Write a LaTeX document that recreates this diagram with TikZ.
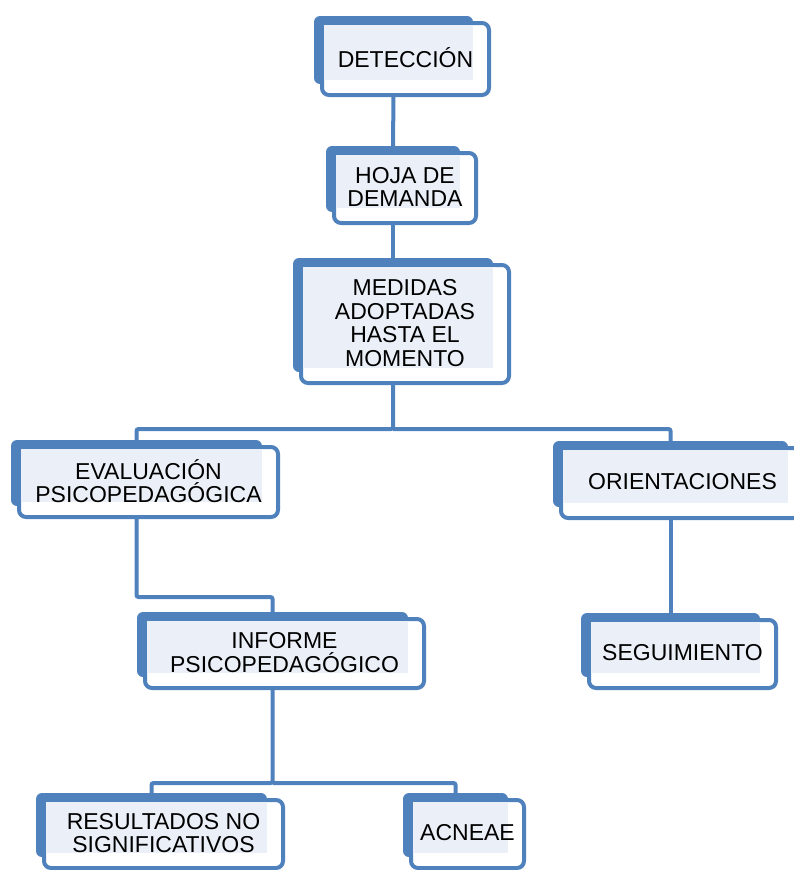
\documentclass[tikz,border=0pt]{standalone}
\usepackage{fontspec}
\setmainfont{Liberation Sans}
\definecolor{bl}{HTML}{4F81BD}
\definecolor{lf}{HTML}{EBF0F8}
\tikzset{
  backbox/.style={fill=bl, rounded corners=6pt, inner sep=0pt, outer sep=0pt},
  frontbox/.style={fill=white, draw=bl, line width=4pt, rounded corners=7pt, inner sep=0pt, outer sep=0pt},
  boxtext/.style={align=center, inner sep=0pt, font=\fontsize{23}{23.5}\selectfont},
  conn/.style={draw=bl, line width=4pt, rounded corners=2pt}
}
% name, back x1, y1, x2, y2 (pixel coordinates, y downwards), text
\newcommand{\mybox}[6]{%
  \pgfmathsetmacro\fxa{#2+8}\pgfmathsetmacro\fya{#3+7}%
  \pgfmathsetmacro\fxb{#4+16}\pgfmathsetmacro\fyb{#5+15}%
  \pgfmathsetmacro\bw{#4-#2}\pgfmathsetmacro\bh{#5-#3+4}%
  \pgfmathsetmacro\fw{\fxb-\fxa}\pgfmathsetmacro\fh{\fyb-\fya}%
  \node[backbox, minimum width=\bw pt, minimum height=\bh pt] (#1b) at ({(#2+#4)/2},{(#3+#5+4)/2}) {};
  \node[frontbox, minimum width=\fw pt, minimum height=\fh pt] (#1f) at ({(\fxa+\fxb)/2},{(\fya+\fyb)/2}) {};
  \fill[lf] (\fxa+2,\fya+2) rectangle (#4,#5);
  \node[boxtext] (#1) at ({(\fxa+\fxb)/2},{(\fya+\fyb)/2-1}) {#6};
}
\begin{document}
\begin{tikzpicture}[x=1pt,y=-1pt]
\useasboundingbox (0,0) rectangle (794,870);
\clip (0,0) rectangle (794,870);
\mybox{det}{314}{16}{473}{80}{DETECCIÓN}
\mybox{hoja}{326}{146}{460}{208}{HOJA DE\\DEMANDA}
\mybox{med}{293}{258}{493}{368}{MEDIDAS\\ADOPTADAS\\HASTA EL\\MOMENTO}
\mybox{eva}{11}{440}{262}{502}{EVALUACIÓN\\PSICOPEDAGÓGICA}
\mybox{ori}{553}{441}{788}{503}{ORIENTACIONES}
\mybox{inf}{137}{612}{408}{673}{INFORME\\PSICOPEDAGÓGICO}
\mybox{seg}{581}{613}{760}{673}{SEGUIMIENTO}
\mybox{res}{36}{793}{267}{853}{RESULTADOS NO\\SIGNIFICATIVOS}
\mybox{acn}{403}{793}{508}{853}{ACNEAE}
\coordinate (bus1) at (0,429);
\coordinate (bus2) at (0,597);
\coordinate (bus3) at (0,783);
\draw[conn] (detb.center |- detf.south) -- (hojab.north);
\draw[conn] (hojab.center |- hojaf.south) -- (medb.north);
\draw[conn] (medb.center |- medf.south) -- (medb.center |- bus1) -| (evab.north);
\draw[conn] (medb.center |- bus1) -| (orib.north);
\draw[conn] (evab.center |- evaf.south) -- (evab.center |- bus2) -| (infb.north);
\draw[conn] (orib.center |- orif.south) -- (segb.north);
\draw[conn] (infb.center |- inff.south) -- (infb.center |- bus3) -| (resb.north);
\draw[conn] (infb.center |- bus3) -| (acnb.north);
\end{tikzpicture}
\end{document}
